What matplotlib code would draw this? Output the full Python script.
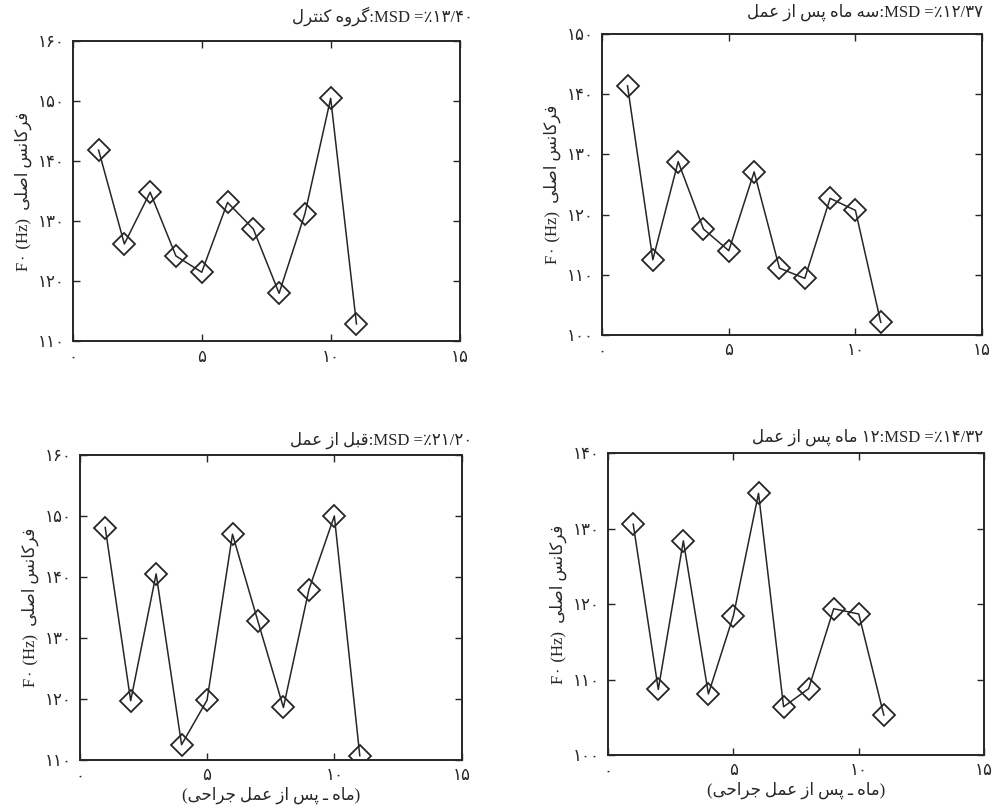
import matplotlib
matplotlib.use('Agg')
import matplotlib.pyplot as plt

# === Datos ===
meses = [1, 2, 3, 4, 5, 6, 7, 8, 9, 10, 11]

f0_control = [141.8, 126.2, 134.8, 124.2, 121.5, 133.1, 128.7, 118.0, 131.2, 150.4, 112.9]
f0_3meses = [141.4, 112.5, 128.8, 117.6, 114.0, 127.1, 111.1, 109.4, 122.7, 120.7, 102.1]
f0_antes = [148.1, 119.7, 140.5, 112.5, 119.8, 147.0, 132.7, 118.6, 137.9, 150.0, 110.7]
f0_12meses = [130.6, 108.7, 128.4, 108.1, 118.5, 134.7, 106.4, 108.8, 119.4, 118.7, 105.3]

ylim_control = (110, 160)
ylim_3meses = (100, 150)
ylim_antes = (110, 160)
ylim_12meses = (100, 140)

xticks = [0, 5, 10, 15]

titulo_control = 'گروه کنترل'
titulo_3meses = 'سه ماه پس از عمل'
titulo_antes = 'قبل از عمل'
titulo_12meses = 'ماه پس از عمل'
msd_control = '٪۱۳/۴۰'
msd_3meses = '٪۱۲/۳۷'
msd_antes = '٪۲۱/۲۰'
msd_12meses = '٪۱۴/۳۲'

ylabel_fa = 'فرکانس اصلی'
xlabel_fa = 'ماه ـ پس از عمل جراحی'

# === Formas de presentación árabes (aislada, final, inicial, medial) ===
FORMAS = {
    'ا': ('\uFE8D', '\uFE8E', None, None),
    'ب': ('\uFE8F', '\uFE90', '\uFE91', '\uFE92'),
    'پ': ('\uFB56', '\uFB57', '\uFB58', '\uFB59'),
    'ت': ('\uFE95', '\uFE96', '\uFE97', '\uFE98'),
    'ج': ('\uFE9D', '\uFE9E', '\uFE9F', '\uFEA0'),
    'ح': ('\uFEA1', '\uFEA2', '\uFEA3', '\uFEA4'),
    'ر': ('\uFEAD', '\uFEAE', None, None),
    'ز': ('\uFEAF', '\uFEB0', None, None),
    'س': ('\uFEB1', '\uFEB2', '\uFEB3', '\uFEB4'),
    'ص': ('\uFEB9', '\uFEBA', '\uFEBB', '\uFEBC'),
    'ع': ('\uFEC9', '\uFECA', '\uFECB', '\uFECC'),
    'ف': ('\uFED1', '\uFED2', '\uFED3', '\uFED4'),
    'ق': ('\uFED5', '\uFED6', '\uFED7', '\uFED8'),
    'ک': ('\uFB8E', '\uFB8F', '\uFB90', '\uFB91'),
    'گ': ('\uFB92', '\uFB93', '\uFB94', '\uFB95'),
    'ل': ('\uFEDD', '\uFEDE', '\uFEDF', '\uFEE0'),
    'م': ('\uFEE1', '\uFEE2', '\uFEE3', '\uFEE4'),
    'ن': ('\uFEE5', '\uFEE6', '\uFEE7', '\uFEE8'),
    'ه': ('\uFEE9', '\uFEEA', '\uFEEB', '\uFEEC'),
    'و': ('\uFEED', '\uFEEE', None, None),
    'ی': ('\uFBFC', '\uFBFD', '\uFBFE', '\uFBFF'),
    'ـ': ('\u0640', '\u0640', '\u0640', '\u0640'),
}


def rtl(texto):
    """Da forma a las letras y devuelve el texto en orden visual."""
    salida = []
    for i, c in enumerate(texto):
        if c not in FORMAS:
            salida.append(c)
            continue
        prev = texto[i - 1] if i > 0 else ''
        nxt = texto[i + 1] if i + 1 < len(texto) else ''
        une_prev = prev in FORMAS and FORMAS[prev][2] is not None
        une_next = FORMAS[c][2] is not None and nxt in FORMAS
        iso, fin, ini, med = FORMAS[c]
        if une_prev and une_next:
            salida.append(med)
        elif une_prev:
            salida.append(fin)
        elif une_next:
            salida.append(ini)
        else:
            salida.append(iso)
    return ''.join(salida)[::-1]


def fa(n):
    return str(n).translate(str.maketrans('0123456789', '۰۱۲۳۴۵۶۷۸۹'))


FAM = ['Liberation Serif', 'DejaVu Sans']
COLOR = '#262626'

fig = plt.figure(figsize=(9.97, 8.11), dpi=100)

paneles = [
    ([0.073, 0.579, 0.388, 0.371], f0_control, ylim_control,
     rtl(titulo_control) + ':MSD =' + msd_control, False, (0.474, 0.980)),
    ([0.604, 0.587, 0.381, 0.371], f0_3meses, ylim_3meses,
     rtl(titulo_3meses) + ':MSD =' + msd_3meses, False, (0.986, 0.985)),
    ([0.080, 0.063, 0.383, 0.376], f0_antes, ylim_antes,
     rtl(titulo_antes) + ':MSD =' + msd_antes, True, (0.474, 0.457)),
    ([0.610, 0.069, 0.377, 0.372], f0_12meses, ylim_12meses,
     rtl(titulo_12meses) + ' ' + fa(12) + ':MSD =' + msd_12meses, True, (0.986, 0.461)),
]

for rect, datos, ylim, titulo, con_xlabel, pos_titulo in paneles:
    ax = fig.add_axes(rect)
    ax.plot(meses, datos, color=COLOR, linewidth=1.1, marker='D', markersize=11,
            markerfacecolor='none', markeredgecolor=COLOR, markeredgewidth=1.3)
    ax.set_xlim(0, 15)
    ax.set_ylim(*ylim)
    yticks = list(range(ylim[0], ylim[1] + 1, 10))
    ax.set_xticks(xticks)
    ax.set_xticklabels([fa(t) for t in xticks], family=FAM, fontsize=12)
    ax.set_yticks(yticks)
    ax.set_yticklabels([fa(t) for t in yticks], family=FAM, fontsize=12)
    ax.tick_params(direction='in', top=True, right=True, length=5, width=1,
                   color=COLOR, labelcolor=COLOR, pad=6)
    for lado in ax.spines.values():
        lado.set_color(COLOR)
        lado.set_linewidth(1.4)
    ax.set_ylabel('F' + fa(0) + ' (Hz)  ' + rtl(ylabel_fa), family=FAM,
                  fontsize=12, color=COLOR, labelpad=4)
    if con_xlabel:
        ax.set_xlabel('(' + rtl(xlabel_fa) + ')', family=FAM, fontsize=12,
                      color=COLOR, labelpad=2)
    fig.text(pos_titulo[0], pos_titulo[1], titulo, ha='right', va='center',
             family=FAM, fontsize=12, color=COLOR)

plt.savefig('out.png', dpi=100)
